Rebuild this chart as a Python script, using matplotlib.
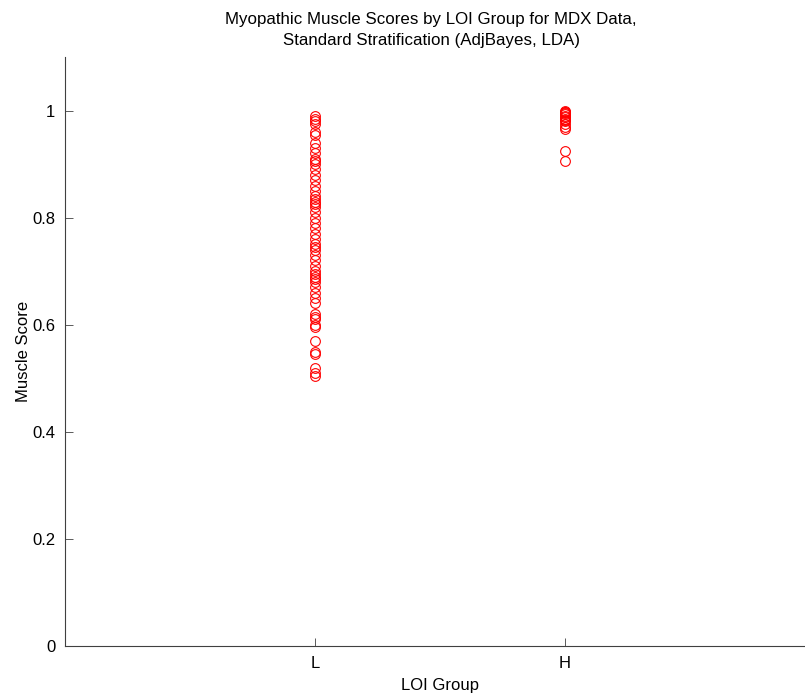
import matplotlib
matplotlib.use("Agg")
import matplotlib.pyplot as plt

plt.rcParams['font.family'] = ['Liberation Sans', 'DejaVu Sans']

groups = ["L", "H"]

low_scores = [0.990, 0.985, 0.980, 0.975, 0.960, 0.955, 0.940, 0.930, 0.920,
              0.910, 0.905, 0.900, 0.890, 0.880, 0.870, 0.860, 0.850, 0.840,
              0.835, 0.830, 0.825, 0.820, 0.810, 0.800, 0.790, 0.780, 0.770,
              0.760, 0.750, 0.745, 0.740, 0.730, 0.720, 0.710, 0.700, 0.695,
              0.690, 0.685, 0.680, 0.670, 0.660, 0.650, 0.640, 0.620, 0.615,
              0.610, 0.600, 0.595, 0.570, 0.550, 0.545, 0.520, 0.510, 0.505]

high_scores = [0.999, 0.998, 0.997, 0.995, 0.993, 0.990, 0.988, 0.985, 0.982,
               0.980, 0.975, 0.970, 0.965, 0.925, 0.905]

y_ticks = [0, 0.2, 0.4, 0.6, 0.8, 1.0]
y_tick_labels = ["0", "0.2", "0.4", "0.6", "0.8", "1"]

fig = plt.figure(figsize=(8.05, 6.95), dpi=100)
ax = fig.add_axes([65 / 805, 49 / 695, 750 / 805, 589 / 695])

for pos, scores in zip([1, 2], [low_scores, high_scores]):
    ax.plot([pos] * len(scores), scores, linestyle='none', marker='o',
            markersize=7.0, markerfacecolor='none', markeredgecolor='#ff0000',
            markeredgewidth=0.8)

ax.set_xlim(0, 3)
ax.set_ylim(0, 1.1)
ax.set_xticks([1, 2])
ax.set_xticklabels(groups)
ax.set_yticks(y_ticks)
ax.set_yticklabels(y_tick_labels)

for side in ['top', 'right']:
    ax.spines[side].set_visible(False)
for side in ['left', 'bottom']:
    ax.spines[side].set_color('#404040')
    ax.spines[side].set_linewidth(0.8)

ax.tick_params(direction='in', length=6, width=0.6, color='#404040',
               labelsize=12, pad=7)

ax.set_xlabel("LOI Group", fontsize=12, labelpad=5)
ax.set_ylabel("Muscle Score", fontsize=12, labelpad=1)
ax.set_title("Myopathic Muscle Scores by LOI Group for MDX Data,\n"
             "Standard Stratification (AdjBayes, LDA)",
             fontsize=12.2, pad=9, linespacing=1.45, x=(431 - 65) / 750)

fig.savefig("out.png", dpi=100)
